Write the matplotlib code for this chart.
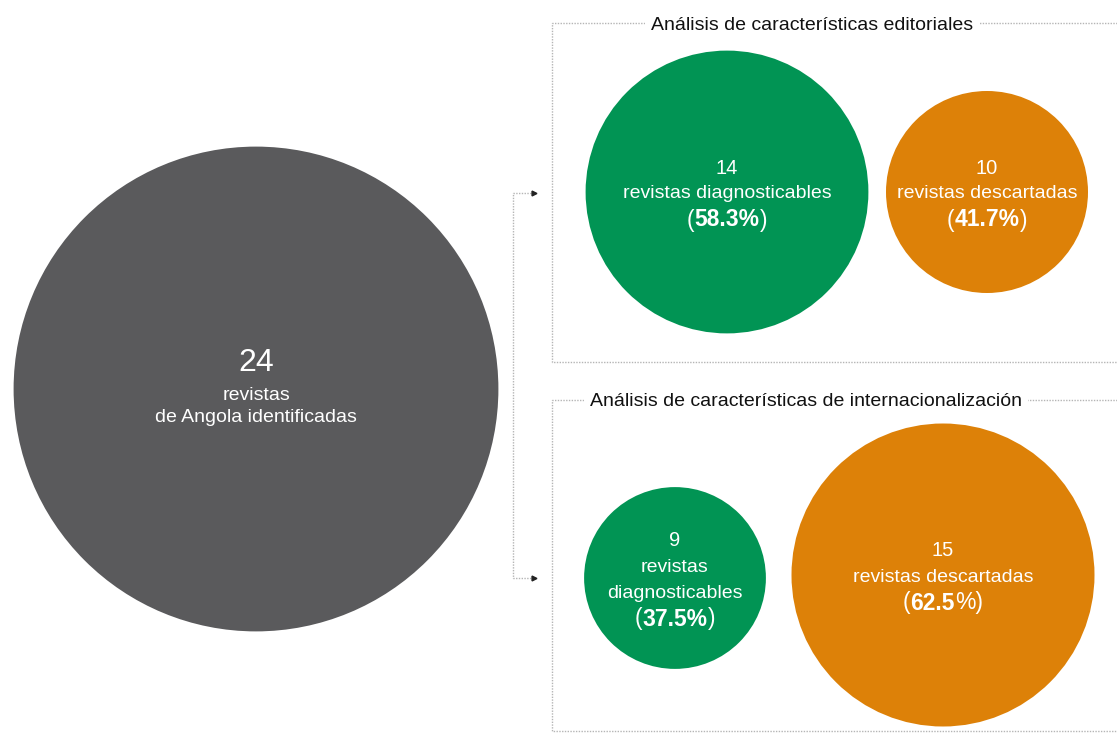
import matplotlib.pyplot as plt
from matplotlib.patches import Circle

plt.rcParams['font.family'] = ['Liberation Sans', 'DejaVu Sans']

# Counts and shares
total = 24
total_label = ["revistas", "de Angola identificadas"]

panel_titles = ["Análisis de características editoriales",
                "Análisis de características de internacionalización"]
panel_counts = [[14, 10], [9, 15]]
panel_pcts = [[58.3, 41.7], [37.5, 62.5]]
panel_labels = [["revistas diagnosticables", "revistas descartadas"],
                ["revistas\ndiagnosticables", "revistas descartadas"]]

GRAY = "#5a5a5c"
GREEN = "#019454"
ORANGE = "#dd8108"
LINE = "#b5b5b5"
colors = [GREEN, ORANGE]

# layout (pixels); bubble radius grows linearly with the count
W, H = 1117, 734
PX_PER_ITEM = 10.1
big_center = (256, 389)
centers = [[(727, 192), (987, 192)],
           [(675, 578), (943, 575)]]
boxes = [(552, 23, 362), (552, 400, 731)]
title_pos = [(812, 25), (806, 402)]

fig = plt.figure(figsize=(W / 100, H / 100), dpi=100)
ax = fig.add_axes([0, 0, 1, 1])
ax.set_xlim(0, W)
ax.set_ylim(H, 0)
ax.axis("off")
renderer = fig.canvas.get_renderer()


def rich_text(x, y, parts, size):
    """Center a line made of (text, weight) pieces at x."""
    objs = []
    for s, weight in parts:
        t = ax.text(0, y, s, fontsize=size, fontweight=weight, color="white",
                    ha="left", va="center")
        objs.append(t)
    widths = [t.get_window_extent(renderer).width for t in objs]
    cur = x - sum(widths) / 2
    for t, w in zip(objs, widths):
        t.set_x(cur)
        cur += w


# big circle
cx, cy = big_center
ax.add_patch(Circle((cx, cy), total * PX_PER_ITEM, color=GRAY, lw=0))
ax.text(cx, cy - 26, str(total), color="white", fontsize=23, ha="center", va="center")
ax.text(cx, cy + 6, total_label[0], color="white", fontsize=14, ha="center", va="center")
ax.text(cx, cy + 29, total_label[1], color="white", fontsize=14, ha="center", va="center")

# connector from the big circle to both panels
dot = dict(color=LINE, lw=1, linestyle=(0, (1, 1)))
ax.plot([531, 513, 513, 531], [193, 193, 578, 578], **dot)
for yy in (193, 578):
    ax.plot([534], [yy], marker=">", color="#222222", markersize=3.5)

for i in range(2):
    x0, y0, y1 = boxes[i]
    ax.plot([W, x0, x0, W], [y0, y0, y1, y1], **dot)
    tx, ty = title_pos[i]
    ax.text(tx, ty, panel_titles[i], fontsize=14.0, color="#111111",
            ha="center", va="center",
            bbox=dict(facecolor="white", edgecolor="none", pad=4))
    for j in range(2):
        bx, by = centers[i][j]
        n_items = panel_counts[i][j]
        ax.add_patch(Circle((bx, by), n_items * PX_PER_ITEM, color=colors[j], lw=0))
        lines = panel_labels[i][j].split("\n")
        n = len(lines)
        step = 26
        top = by + 2 - step * (n + 1) / 2
        ax.text(bx, top, str(n_items), color="white", fontsize=14.5,
                ha="center", va="center")
        for k, ln in enumerate(lines):
            ax.text(bx, top + step * (k + 1), ln, color="white", fontsize=14,
                    ha="center", va="center")
        pct = f"{panel_pcts[i][j]:.1f}"
        if i == 1 and j == 1:
            parts = [("(", "normal"), (pct, "bold"), ("%)", "normal")]
        else:
            parts = [("(", "normal"), (pct + "%", "bold"), (")", "normal")]
        rich_text(bx, top + step * (n + 1), parts, 16.5)

fig.savefig("out.png", dpi=100, facecolor="white")
